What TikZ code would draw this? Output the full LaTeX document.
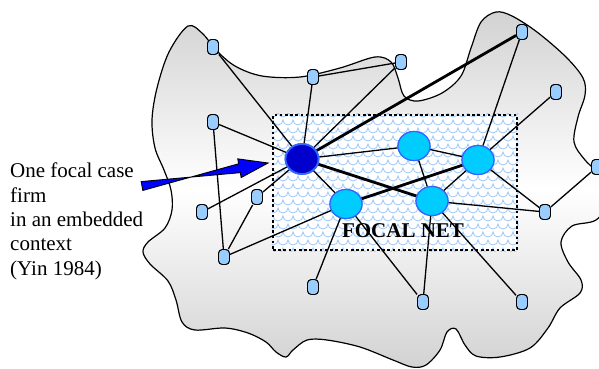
\documentclass[tikz,border=0pt]{standalone}
\usepackage{fontspec}
\setmainfont{Liberation Serif}
\usetikzlibrary{shapes.geometric,calc}
\definecolor{smallfill}{HTML}{99CCFF}
\definecolor{bigfill}{HTML}{00CCFF}
\definecolor{bigborder}{HTML}{3366FF}
\definecolor{focalfill}{HTML}{0000CC}
\definecolor{arrowblue}{HTML}{0000FF}
\definecolor{scalecol}{HTML}{A6CCFA}
\begin{document}
\begin{tikzpicture}[x=1pt,y=-1pt,
  small/.style={draw=black, fill=smallfill, rounded corners=4pt, minimum width=11pt, minimum height=15pt, inner sep=0pt, line width=0.9pt},
  big/.style={ellipse, draw=bigborder, fill=bigfill, minimum width=32pt, minimum height=29pt, inner sep=0pt, line width=1.2pt},
  focalnode/.style={big, fill=focalfill, minimum width=33pt, minimum height=30pt, line width=1.8pt},
  link/.style={line width=1.3pt},
  heavylink/.style={line width=2.8pt},
  netbox/.style={draw=black, line width=2.6pt, dash pattern=on 2.6pt off 2.6pt, minimum width=244pt, minimum height=135pt, inner sep=0pt}]
\clip (0,0) rectangle (599,368);
% blob
\path[draw=black, line width=1.2pt, top color=gray!35, bottom color=gray!35, middle color=white]
  plot[smooth cycle, tension=0.55] coordinates {
  (188,26) (203,34) (216,50) (235,66) (262,76) (300,77) (340,68) (375,57) (391,62) (398,78) (404,96) (418,101) (442,93) (461,76) (471,48) (481,22) (496,12) (512,16) (537,32) (566,57) (583,78) (585,95) (578,117) (574,142) (585,160) (603,178) (610,200) (596,220) (572,226) (561,242) (568,262) (581,280) (580,293) (560,308) (548,328) (530,348) (500,357) (476,356) (465,345) (456,329) (447,332) (440,350) (426,365) (412,367) (393,360) (360,347) (327,340) (307,340) (293,350) (286,357) (276,352) (266,342) (248,333) (225,328) (195,330) (182,322) (176,300) (168,281) (150,264) (143,252) (148,242) (165,228) (172,210) (171,190) (164,170) (155,148) (152,120) (157,88) (169,52)};
% focal net box
\node[netbox, fill=white] (net) at (395,182.5) {};
\begin{scope}
  \clip (net.south west) rectangle (net.north east);
  \foreach \j in {0,...,17} {
    \pgfmathsetmacro{\yy}{112+8*\j}
    \pgfmathsetmacro{\xx}{268+mod(\j,2)*5}
    \draw[scalecol, line width=0.9pt] (\xx,\yy) \foreach \i in {1,...,26} { arc[start angle=180, end angle=0, radius=5] };
  }
\end{scope}
\node[netbox] (netborder) at (395,182.5) {};
% nodes
\node[small] (n1) at (213,47) {};
\node[small] (n2) at (313,77) {};
\node[small] (n3) at (401,62) {};
\node[small] (n4) at (522,32) {};
\node[small] (n5) at (556,92) {};
\node[small] (n6) at (213,122) {};
\node[small] (n7) at (597,167) {};
\node[small] (n8) at (257,197) {};
\node[small] (n9) at (202,212) {};
\node[small] (n10) at (224,257) {};
\node[small] (n11) at (545,212) {};
\node[small] (n12) at (313,287) {};
\node[small] (n13) at (423,302) {};
\node[small] (n14) at (522,302) {};
\node[focalnode] (F) at (302,159) {};
\node[big] (A) at (414,146) {};
\node[big] (B) at (478,160) {};
\node[big] (C) at (346,204) {};
\node[big] (D) at (432,201) {};
% edges
\foreach \a/\b in {n1/F, n2/F, n3/F, n6/F, n8/F, n9/F, F/A, F/C, n2/n3, n6/n10, n8/n10, n10/C, C/n12, C/n13, A/B, A/D, n4/B, B/D, B/n5, B/n11, D/n11, n11/n7, D/n13, D/n14}
  \draw[link] (\a) -- (\b);
\foreach \a/\b in {F/n4, F/D, C/B}
  \draw[heavylink] (\a) -- (\b);
% redraw nodes on top
\foreach \n in {n1,n2,n3,n4,n5,n6,n7,n8,n9,n10,n11,n12,n13,n14}
  \node[small] at (\n) {};
\node[focalnode] at (F) {};
\foreach \n in {A,B,C,D}
  \node[big] at (\n) {};
% label
\node[font=\bfseries\fontsize{21}{24}\selectfont, anchor=base, inner sep=0pt] (lbl) at (403,237) {FOCAL NET};
% text
\node[align=left, anchor=north west, inner sep=0pt, font=\fontsize{21}{24.3}\selectfont] (txt) at (10,163) {One focal case\\firm\\in an embedded\\context\\(Yin 1984)};
% arrow
\coordinate (tail) at (142,186);
\coordinate (tip) at (268,163);
\fill[arrowblue, draw=black, line width=0.9pt, line join=miter]
  ($(tail)!4.5pt!90:(tip)$) --
  ($(tail)!4.5pt!-90:(tip)$) --
  ($($(tip)!29pt!(tail)$)!4.5pt!90:(tip)$) --
  ($($(tip)!29pt!(tail)$)!9.5pt!90:(tip)$) --
  (tip) --
  ($($(tip)!29pt!(tail)$)!9.5pt!-90:(tip)$) --
  ($($(tip)!29pt!(tail)$)!4.5pt!-90:(tip)$) -- cycle;
\end{tikzpicture}
\end{document}
